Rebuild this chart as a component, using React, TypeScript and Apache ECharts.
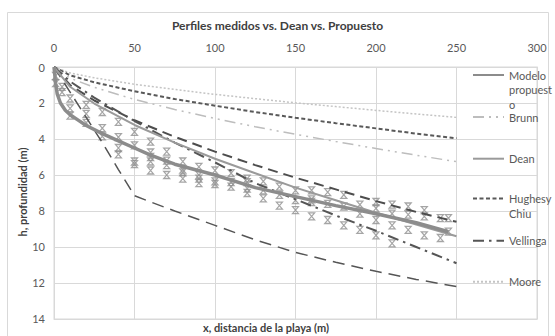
import React, { useEffect, useRef } from "react";
import * as echarts from "echarts";

// ---- data ----
const xTicks = [0, 50, 100, 150, 200, 250, 300];
const yTicks = [0, 2, 4, 6, 8, 10, 12, 14];
const gridX = [0, 10, 25, 50, 75, 100, 125, 150, 175, 200, 225, 250];

const mooreH = [0, 0.33, 0.6, 0.96, 1.25, 1.52, 1.76, 1.99, 2.2, 2.41, 2.61, 2.8];
const hughesH = [0, 0.46, 0.85, 1.35, 1.78, 2.15, 2.5, 2.82, 3.12, 3.41, 3.7, 3.96];
const brunnH = [0, 0.62, 1.13, 1.8, 2.36, 2.86, 3.32, 3.74, 4.14, 4.53, 4.9, 5.26];
const deanH = [0, 1.1, 2.03, 3.22, 4.2, 5.1, 5.9, 6.7, 7.4, 8.1, 8.75, 9.4];
const upperDashH = [0, 1.0, 1.86, 2.96, 3.88, 4.7, 5.45, 6.15, 6.8, 7.45, 8.05, 8.6];
const vellingaH = [0, 0.8, 1.7, 3.0, 4.2, 5.3, 6.45, 7.35, 8.25, 9.1, 10.0, 10.9];

const kinkX = [0, 10, 20, 30, 40, 50, 60, 75, 100, 125, 150, 175, 200, 225, 250];
const kinkH = [0, 1.4, 2.8, 4.2, 5.7, 7.15, 7.5, 8.0, 8.8, 9.6, 10.3, 10.85, 11.35, 11.8, 12.2];

const modeloX = [0, 1, 2, 4, 7, 10, 15, 20, 30, 40, 50, 60, 75, 100, 125, 150, 175, 200, 225, 245];
const modeloH = [0, 0.9, 1.5, 2.0, 2.4, 2.65, 2.95, 3.25, 3.7, 4.1, 4.5, 4.9, 5.4, 6.0, 6.7, 7.2, 7.7, 8.15, 8.65, 9.15];

const measuredX = [1, 5, 10, 20, 30, 40, 50, 60, 70, 80, 90, 100, 110, 120, 130, 140, 150, 160, 170, 180, 190, 200, 210, 220, 230, 240, 245];
const measuredH = [
  [0.5, 0.9],
  [1.1, 1.4],
  [1.75, 2.3, 2.7],
  [2.1, 2.6, 3.1],
  [2.5, 3.4, 3.85],
  [3.05, 3.9, 4.5, 4.85],
  [3.6, 4.35, 5.25, 5.4],
  [4.15, 4.75, 5.0, 5.25, 5.75],
  [4.7, 5.2, 5.45, 6.0],
  [5.25, 5.7, 5.85, 6.2],
  [5.55, 6.0, 6.2, 6.45],
  [5.75, 6.35, 6.5],
  [5.9, 6.4, 6.65],
  [6.2, 6.4, 6.75, 7.0],
  [6.35, 6.85, 7.3],
  [6.65, 7.1, 7.7],
  [6.85, 7.4, 7.95],
  [6.85, 7.35, 7.5, 8.3],
  [6.95, 7.6, 8.5],
  [7.1, 7.75, 8.8],
  [7.65, 8.15, 9.05],
  [7.5, 7.85, 8.5, 9.35],
  [7.65, 8.15, 8.8, 9.8],
  [7.75, 8.2, 9.05],
  [7.95, 8.3, 9.35],
  [8.4, 9.5],
  [8.4, 9.15],
];

const FONT = "Lato, 'Open Sans', sans-serif";
const EPS = 0.0001;

function pairs(xs: number[], ys: number[]) {
  return xs.map((x, i) => [x, ys[i]]);
}

export default function App() {
  const ref = useRef<HTMLDivElement>(null);

  useEffect(() => {
    if (!ref.current) return;
    const chart = echarts.init(ref.current, undefined, { renderer: "svg" });

    const measured: number[][] = [];
    measuredX.forEach((x, i) => measuredH[i].forEach((h) => measured.push([x, h])));

    const legendText = { color: "#595959", fontSize: 11, fontFamily: FONT, lineHeight: 14.5 };
    const mkLegend = (name: string, top: number, formatter?: string) => ({
      data: [name],
      orient: "vertical",
      left: 472,
      top,
      padding: 0,
      itemWidth: 31,
      itemHeight: 10,
      selectedMode: false,
      textStyle: legendText,
      itemStyle: { color: "rgba(0,0,0,0)", borderColor: "rgba(0,0,0,0)", borderWidth: 0, opacity: 0 },
      formatter: formatter ?? "{name}",
    });

    const xMax = xTicks[xTicks.length - 1];
    const yMax = yTicks[yTicks.length - 1];
    const border = { show: true, onZero: false, lineStyle: { color: "#d9d9d9", width: 1 } };

    const option: any = {
      animation: false,
      title: {
        text: "Perfiles medidos vs. Dean vs. Propuesto",
        left: "center",
        top: 19,
        padding: 0,
        textStyle: { color: "#404040", fontSize: 12, fontWeight: "bold", fontFamily: FONT },
      },
      legend: [
        mkLegend("Modelo propuesto", 75 - 36.25, "\n\nModelo\npropuest\no"),
        mkLegend("Brunn", 117 - 7.25),
        mkLegend("Dean", 158.7 - 7.25),
        mkLegend("Hughes y Chiu", 198.5 - 21.75, "\nHughesy\nChiu"),
        mkLegend("Vellinga", 240.7 - 7.25),
        mkLegend("Moore", 281.7 - 7.25),
      ],
      grid: { left: 54, right: 18, top: 67, bottom: 17, show: true, borderColor: "#d9d9d9", borderWidth: 1 },
      xAxis: [
        {
          type: "value",
          position: "top",
          min: xTicks[0],
          max: xMax + EPS,
          interval: xTicks[1] - xTicks[0],
          axisLine: { show: true, lineStyle: { color: "#d9d9d9" } },
          axisTick: { show: false },
          axisLabel: {
            color: "#595959",
            fontSize: 11,
            fontFamily: FONT,
            margin: 14,
            formatter: (v: number) => (xTicks.includes(v) ? String(v) : ""),
          },
          splitLine: { show: true, lineStyle: { color: "#d9d9d9", width: 1 } },
        },
        {
          type: "value",
          position: "bottom",
          min: xTicks[0],
          max: xMax + EPS,
          axisLine: border,
          axisTick: { show: false },
          axisLabel: { show: false },
          splitLine: { show: false },
        },
      ],
      yAxis: [
        {
          type: "value",
          inverse: true,
          min: yTicks[0],
          max: yMax + EPS,
          interval: yTicks[1] - yTicks[0],
          axisLine: { show: true, lineStyle: { color: "#d9d9d9" } },
          axisTick: { show: false },
          axisLabel: {
            color: "#595959",
            fontSize: 11,
            fontFamily: FONT,
            margin: 9,
            formatter: (v: number) => (yTicks.includes(v) ? String(v) : ""),
          },
          splitLine: { show: true, lineStyle: { color: "#d9d9d9", width: 1 } },
        },
        {
          type: "value",
          position: "right",
          inverse: true,
          min: yTicks[0],
          max: yMax + EPS,
          axisLine: border,
          axisTick: { show: false },
          axisLabel: { show: false },
          splitLine: { show: false },
        },
      ],
      graphic: [
        {
          type: "rect",
          shape: { x: 7.5, y: 12.5, width: 541, height: 330 },
          style: { fill: "none", stroke: "#d9d9d9", lineWidth: 1 },
          silent: true,
        },
        {
          type: "text",
          x: 266,
          y: 327,
          style: {
            text: "x, distancia de la playa (m)",
            align: "center",
            verticalAlign: "middle",
            fill: "#404040",
            font: `bold 11px ${FONT}`,
          },
        },
        {
          type: "text",
          x: 22,
          y: 192,
          rotation: Math.PI / 2,
          style: {
            text: "h, profundidad (m)",
            align: "center",
            verticalAlign: "middle",
            fill: "#404040",
            font: `bold 11px ${FONT}`,
          },
        },
      ],
      series: [
        {
          name: "Moore",
          type: "line",
          symbol: "none",
          data: pairs(gridX, mooreH),
          itemStyle: { color: "#c4c4c4" },
          lineStyle: { color: "#c4c4c4", width: 1.5, type: [2, 2] },
        },
        {
          name: "Hughes y Chiu",
          type: "line",
          symbol: "none",
          data: pairs(gridX, hughesH),
          itemStyle: { color: "#595959" },
          lineStyle: { color: "#595959", width: 2, type: [4, 2.5] },
        },
        {
          name: "Brunn",
          type: "line",
          symbol: "none",
          data: pairs(gridX, brunnH),
          itemStyle: { color: "#bdbdbd" },
          lineStyle: { color: "#bdbdbd", width: 1.5, type: [11, 5, 2, 5, 2, 5] },
        },
        {
          name: "Perfil A",
          type: "line",
          symbol: "none",
          data: pairs(gridX, upperDashH),
          itemStyle: { color: "#4d4d4d" },
          lineStyle: { color: "#4d4d4d", width: 2, type: [10, 6] },
        },
        {
          name: "Vellinga",
          type: "line",
          symbol: "none",
          data: pairs(gridX, vellingaH),
          itemStyle: { color: "#555555" },
          lineStyle: { color: "#555555", width: 2, type: [11, 5, 2.5, 5] },
        },
        {
          name: "Perfil B",
          type: "line",
          symbol: "none",
          data: pairs(kinkX, kinkH),
          itemStyle: { color: "#555555" },
          lineStyle: { color: "#555555", width: 1.5, type: [12, 7] },
        },
        {
          name: "Medidos",
          type: "scatter",
          data: measured,
          symbol: "path://M0,0L10,0L0,10L10,10Z",
          symbolSize: [6, 7],
          itemStyle: { color: "rgba(0,0,0,0)", borderColor: "#8f8f8f", borderWidth: 1.2 },
        },
        {
          name: "Dean",
          type: "line",
          symbol: "none",
          data: pairs(gridX, deanH),
          itemStyle: { color: "#9a9a9a" },
          lineStyle: { color: "#9a9a9a", width: 2 },
        },
        {
          name: "Modelo propuesto",
          type: "line",
          symbol: "none",
          data: pairs(modeloX, modeloH),
          itemStyle: { color: "#8c8c8c" },
          lineStyle: { color: "#8c8c8c", width: 3.5 },
        },
      ],
    };

    chart.setOption(option);
    return () => chart.dispose();
  }, []);

  return (
    <div style={{ position: "fixed", left: 0, top: 0, width: 555, height: 336, background: "#ffffff" }}>
      <div ref={ref} style={{ width: 555, height: 336 }} />
    </div>
  );
}
